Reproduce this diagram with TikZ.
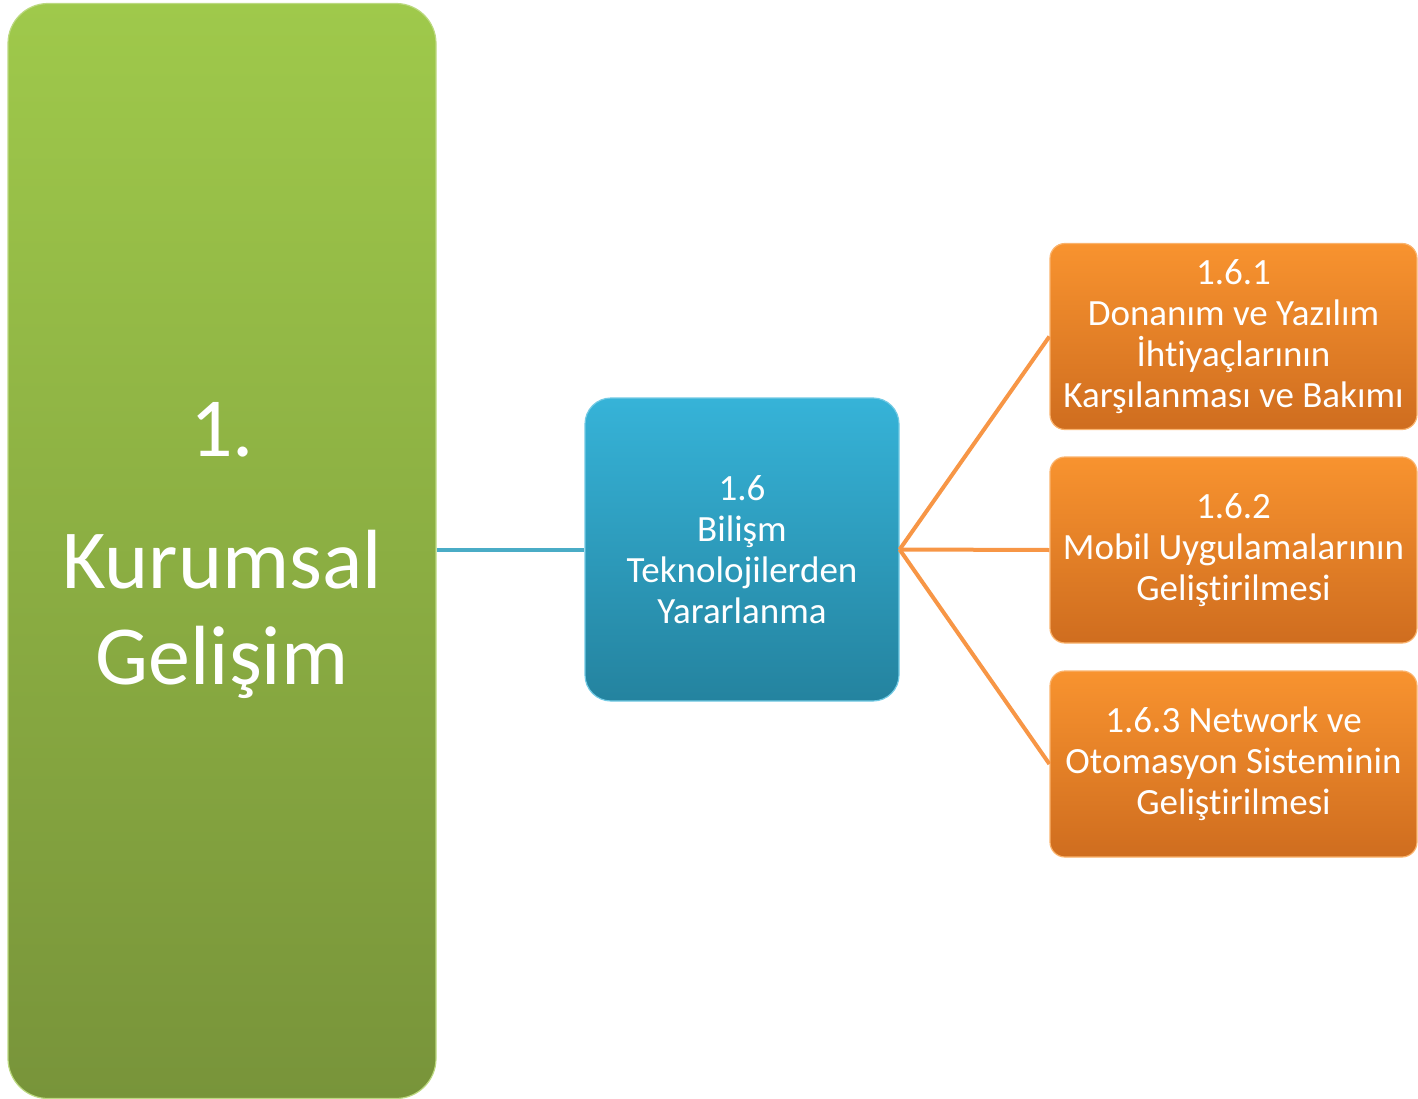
\documentclass[tikz,border=0pt]{standalone}
\usepackage{fontspec}
\setmainfont{Carlito}[RawFeature={-liga;-clig;-calt;-dlig}]
\definecolor{gtop}{HTML}{9FC94B}
\definecolor{gbot}{HTML}{78943A}
\definecolor{btop}{HTML}{36B3D8}
\definecolor{bbot}{HTML}{24839F}
\definecolor{otop}{HTML}{F8932F}
\definecolor{obot}{HTML}{CF6D1F}
\definecolor{bline}{HTML}{4AACC6}
\definecolor{oline}{HTML}{F79646}
\begin{document}
\begin{tikzpicture}[x=1pt,y=-1pt,
  box/.style={rectangle,inner sep=0pt,align=center,text=white,font=\fontsize{37}{41}\selectfont},
  greenbox/.style={box,rounded corners=40pt,top color=gtop,bottom color=gbot,draw=gtop!70!white,line width=1.2pt},
  bluebox/.style={box,rounded corners=26pt,top color=btop,bottom color=bbot,draw=btop!70!white,line width=1.2pt},
  orangebox/.style={box,rounded corners=15pt,top color=otop,bottom color=obot,draw=otop!70!white,line width=1.2pt,minimum width=367pt,minimum height=186pt},
  blink/.style={draw=bline,line width=4pt},
  olink/.style={draw=oline,line width=4pt}]
\useasboundingbox (0,0) rectangle (1418,1099);
\node[greenbox,minimum width=428pt,minimum height=1095pt,font=\fontsize{84}{96}\selectfont] (g) at (222,551) {1.\\[36pt]Kurumsal\\Gelişim};
\node[bluebox,minimum width=314pt,minimum height=303pt] (b) at (742,549.5) {1.6\\Bilişm\\Teknolojilerden\\Yararlanma};
\node[orangebox] (o1) at (1233.5,336.5) {1.6.1\\Donanım ve Yazılım\\İht{}iyaçlarının\\Karşılanması ve Bakımı};
\node[orangebox] (o2) at (1233.5,550) {1.6.2\\Mobil Uygulamalarının\\Gelişt{}irilmesi};
\node[orangebox] (o3) at (1233.5,764) {1.6.3 Network ve\\Otomasyon Sisteminin\\Gelişt{}irilmesi};
\draw[blink] (g.east |- b.west) -- (b.west);
\draw[olink] (b.east) -- (o1.west);
\draw[olink] (b.east) -- (o2.west);
\draw[olink] (b.east) -- (o3.west);
\end{tikzpicture}
\end{document}
